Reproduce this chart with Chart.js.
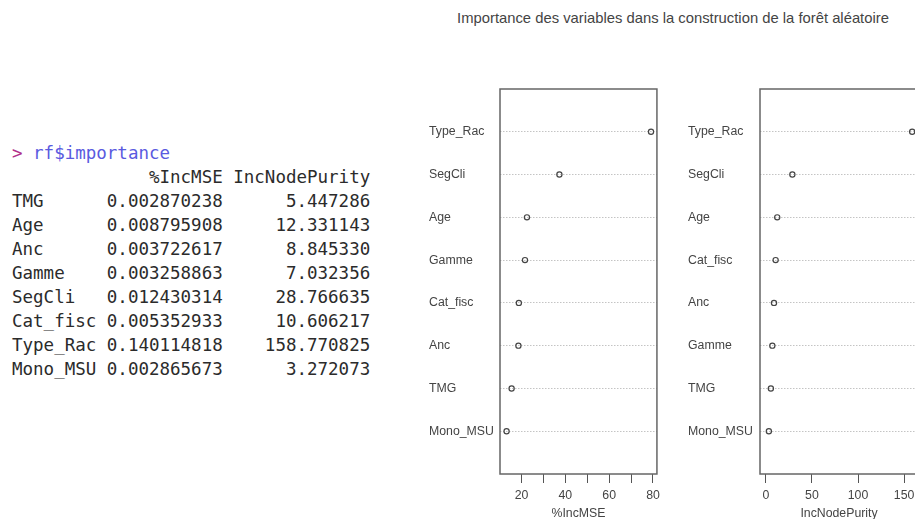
<!DOCTYPE html>
<html>
<head>
<meta charset="utf-8">
<script src="https://cdn.jsdelivr.net/npm/chart.js@4"></script>
<style>
  html, body { margin: 0; padding: 0; background: #fff; width: 915px; height: 519px; overflow: hidden; position: relative; }
  #console { position: absolute; left: 12px; top: 141px; margin: 0; font-family: "DejaVu Sans Mono", monospace; font-size: 17.5px; line-height: 24px; color: #2b2b2b; white-space: pre; }
  #console .p { color: #b0308a; }
  #console .c { color: #5a5ae0; }
  #titre { position: absolute; left: 420px; width: 506px; top: 10px; text-align: center; font-family: "Liberation Sans", Arial, sans-serif; font-size: 14.8px; color: #444; white-space: nowrap; }
  #c1 { position: absolute; left: 425px; top: 80px; }
  #c2 { position: absolute; left: 684px; top: 80px; }
</style>
</head>
<body>
<pre id="console"></pre>
<div id="titre">Importance des variables dans la construction de la forêt aléatoire</div>
<canvas id="c1" width="240" height="439"></canvas>
<canvas id="c2" width="250" height="439"></canvas>
<script>
// rf$importance
var variables = ["TMG", "Age", "Anc", "Gamme", "SegCli", "Cat_fisc", "Type_Rac", "Mono_MSU"];
var incMSE = [0.002870238, 0.008795908, 0.003722617, 0.003258863, 0.012430314, 0.005352933, 0.140114818, 0.002865673];
var incNodePurity = [5.447286, 12.331143, 8.845330, 7.032356, 28.766635, 10.606217, 158.770825, 3.272073];
// %IncMSE as drawn by varImpPlot (scaled)
var pctIncMSE = [15.5, 22.5, 18.6, 21.6, 37.3, 18.8, 79.1, 13.2];

var mseTicks = [20, 30, 40, 50, 60, 70, 80];
var mseLabels = [20, 40, 60, 80];
var purityTicks = [0, 50, 100, 150];

// console text
function pad(s, n, right) {
  while (s.length < n) s = right ? " " + s : s + " ";
  return s;
}
var lignes = [pad("", 9) + pad("%IncMSE", 11, true) + " IncNodePurity"];
for (var i = 0; i < variables.length; i++) {
  lignes.push(pad(variables[i], 9) + incMSE[i].toFixed(9) + " " + pad(incNodePurity[i].toFixed(6), 13, true));
}
document.getElementById("console").innerHTML =
  '<span class="p">&gt; </span><span class="c">rf$importance</span>\n' + lignes.join("\n");

var police = { family: "'Liberation Sans', Arial, sans-serif", size: 12.3 };

// boite autour de la zone du graphique
var boite = {
  id: "boite",
  beforeDatasetsDraw: function(chart) {
    var a = chart.chartArea, ctx = chart.ctx;
    ctx.save();
    ctx.strokeStyle = "#666";
    ctx.lineWidth = 1.5;
    ctx.strokeRect(a.left, a.top, a.right - a.left, a.bottom - a.top);
    ctx.restore();
  }
};

function dotchart(id, valeurs, xmin, xmax, ticks, labels, titre, padRight, yWidth) {
  var idx = valeurs.map(function(v, i) { return i; });
  idx.sort(function(a, b) { return valeurs[b] - valeurs[a]; });
  var n = idx.length;
  var pts = idx.map(function(i, r) { return { x: valeurs[i], y: n - r }; });
  var noms = {};
  idx.forEach(function(i, r) { noms[n - r] = variables[i]; });

  new Chart(document.getElementById(id), {
    type: "scatter",
    data: {
      datasets: [{
        data: pts,
        pointStyle: "circle",
        pointRadius: 2.6,
        pointBorderWidth: 1.2,
        borderColor: "#444",
        backgroundColor: "rgba(0,0,0,0)"
      }]
    },
    options: {
      responsive: false,
      animation: false,
      devicePixelRatio: 1,
      layout: { padding: { left: 4, top: 9, right: padRight, bottom: 0 } },
      plugins: { legend: { display: false }, tooltip: { enabled: false } },
      scales: {
        x: {
          type: "linear",
          min: xmin,
          max: xmax,
          afterBuildTicks: function(s) { s.ticks = ticks.map(function(v) { return { value: v }; }); },
          afterFit: function(s) { s.height = 45; },
          grid: { drawOnChartArea: false, drawTicks: true, tickLength: 9, tickColor: "#555", lineWidth: 1 },
          border: { display: false },
          ticks: {
            padding: 5,
            color: "#444",
            font: police,
            maxRotation: 0,
            autoSkip: false,
            callback: function(v) { return labels.indexOf(v) >= 0 ? String(v) : ""; }
          },
          title: { display: true, text: titre, color: "#444", font: police, padding: { top: 0, bottom: -2 } }
        },
        y: {
          type: "linear",
          min: 0,
          max: n + 1,
          afterBuildTicks: function(s) {
            var t = [];
            for (var k = 1; k <= n; k++) t.push({ value: k });
            s.ticks = t;
          },
          afterFit: function(s) { s.width = yWidth; },
          grid: { drawOnChartArea: true, drawTicks: false, color: "#c4c4c4", lineWidth: 1 },
          border: { display: false, dash: [1.5, 1.5] },
          ticks: {
            crossAlign: "far",
            padding: 0,
            color: "#444",
            font: police,
            autoSkip: false,
            callback: function(v) { return noms[v] || ""; }
          }
        }
      }
    },
    plugins: [boite]
  });
}

dotchart("c1", pctIncMSE, 10.2, 81.8, mseTicks, mseLabels, "%IncMSE", 7, 71);
dotchart("c2", incNodePurity, -6.35, 165.1, purityTicks, purityTicks, "IncNodePurity", 16, 72);
</script>
</body>
</html>
